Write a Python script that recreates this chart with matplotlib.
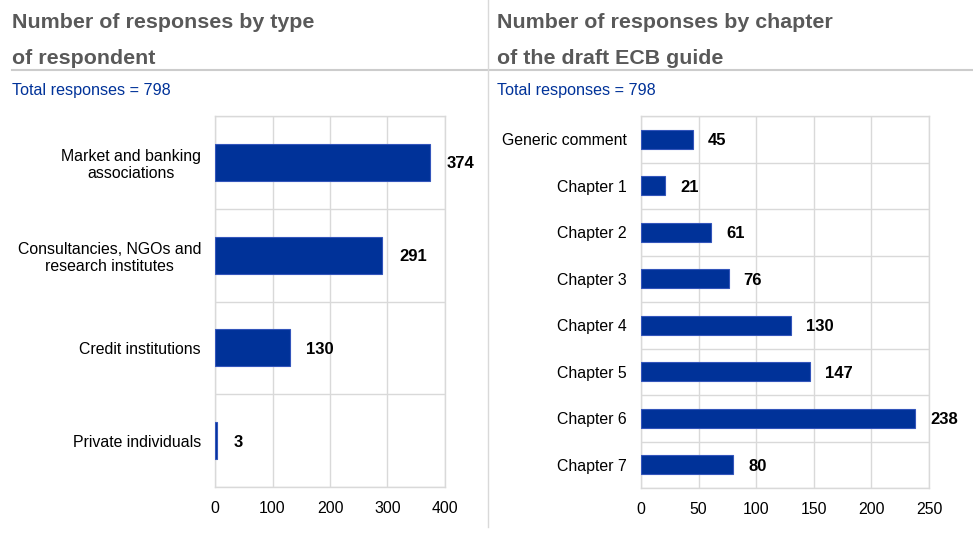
import numpy as np
import matplotlib
matplotlib.use("Agg")
import matplotlib.pyplot as plt

plt.rcParams['font.family'] = ['Liberation Sans', 'DejaVu Sans']

# data
respondent_types = ["Market and banking\nassociations", "Consultancies, NGOs and\nresearch institutes",
                    "Credit institutions", "Private individuals"]
respondent_counts = [374, 291, 130, 3]

chapters = ["Generic comment", "Chapter 1", "Chapter 2", "Chapter 3",
            "Chapter 4", "Chapter 5", "Chapter 6", "Chapter 7"]
chapter_counts = [45, 21, 61, 76, 130, 147, 238, 80]

blue = "#003299"
grid_col = "#d9d9d9"
title_col = "#595959"

fig = plt.figure(figsize=(9.73, 5.36), dpi=100)
W, H = 973, 536


def px_axes(x0, y_top, x1, y_bot):
    return fig.add_axes([x0 / W, 1 - y_bot / H, (x1 - x0) / W, (y_bot - y_top) / H])


def draw(ax, labels, values, xmax, step, offset):
    n = len(labels)
    y = np.arange(n)
    ax.barh(y, values, height=0.4, color=blue, edgecolor="#3355bb", linewidth=0.8, zorder=3)
    ax.set_xlim(0, xmax)
    ax.set_ylim(n - 0.5, -0.5)
    ax.set_yticks(y)
    ax.set_yticklabels(labels, fontsize=11.4, multialignment="center")
    ax.set_yticks(np.arange(n + 1) - 0.5, minor=True)
    ax.set_xticks(np.arange(0, xmax + 1, step))
    ax.tick_params(axis="both", which="both", length=0)
    ax.tick_params(axis="x", labelsize=11.4, pad=10)
    ax.tick_params(axis="y", pad=10)
    ax.grid(axis="x", which="major", color=grid_col, lw=1, zorder=0)
    ax.grid(axis="y", which="minor", color=grid_col, lw=1, zorder=0)
    for s in ax.spines.values():
        s.set_color(grid_col)
        s.set_linewidth(1)
    for yi, v in zip(y, values):
        ax.text(v + offset, yi, str(v), va="center_baseline", ha="left",
                fontsize=12, fontweight="bold", color="black")


ax1 = px_axes(215, 116, 445, 487)
draw(ax1, respondent_types, respondent_counts, 400, 100, 29)

ax2 = px_axes(641, 116, 929, 488)
draw(ax2, chapters, chapter_counts, 250, 50, 13)

# titles and separators
fig.text(12 / W, 1 - 22 / H, "Number of responses by type", fontsize=15.4, fontweight="bold",
         color=title_col, va="center")
fig.text(12 / W, 1 - 59 / H, "of respondent", fontsize=15.4, fontweight="bold",
         color=title_col, va="center")
fig.text(497 / W, 1 - 22 / H, "Number of responses by chapter", fontsize=15.4, fontweight="bold",
         color=title_col, va="center")
fig.text(497 / W, 1 - 59 / H, "of the draft ECB guide", fontsize=15.4, fontweight="bold",
         color=title_col, va="center")
fig.text(12 / W, 1 - 91 / H, "Total responses = 798", fontsize=11.6, color=blue, va="center")
fig.text(497 / W, 1 - 91 / H, "Total responses = 798", fontsize=11.6, color=blue, va="center")

fig.add_artist(plt.Line2D([12 / W, 1], [1 - 69.5 / H, 1 - 69.5 / H], color="#cccccc", lw=1.5))
fig.add_artist(plt.Line2D([488 / W, 488 / W], [1 - 527 / H, 1], color="#d9d9d9", lw=1))

fig.savefig("out.png", dpi=100)
